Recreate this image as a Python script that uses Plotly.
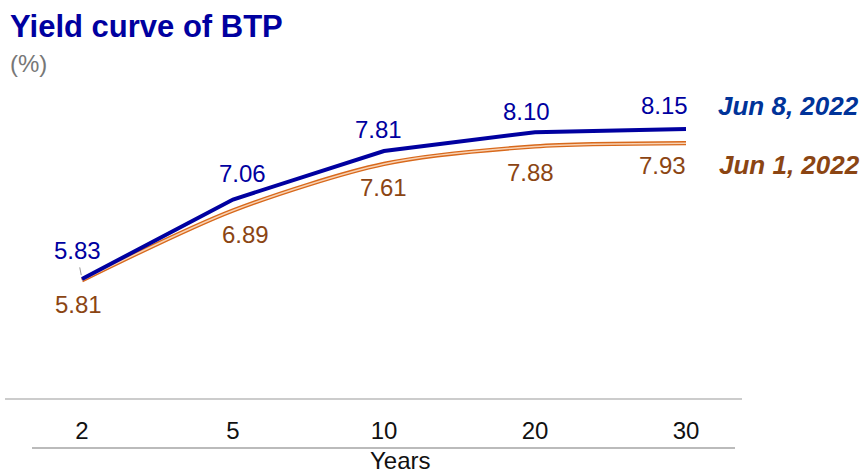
import plotly.graph_objects as go

years = ["2", "5", "10", "20", "30"]
jun8 = [5.83, 7.06, 7.81, 8.10, 8.15]
jun1 = [5.81, 6.89, 7.61, 7.88, 7.93]
series_names = ["Jun 8, 2022", "Jun 1, 2022"]

BLUE = "#0000A0"
BLUE_LBL = "#003399"
ORANGE = "#D8691C"
ORANGE_CORE = "#F8D2B4"
BROWN = "#8B4513"
FONT = "Liberation Sans, Arial, sans-serif"

W, H = 861, 474
L, R, T, B = 5, 742, 90, 398  # plot area in px


def xp(px):
    return (px - L) / (R - L)


def yp(py):
    return (B - py) / (B - T)


xs = list(range(len(years)))

fig = go.Figure()
# Jun 1 double line (orange with pale core)
fig.add_trace(go.Scatter(x=xs, y=jun1, mode="lines",
                         line=dict(color=ORANGE, width=4.2, shape="spline", smoothing=0.8),
                         hoverinfo="skip", showlegend=False))
fig.add_trace(go.Scatter(x=xs, y=jun1, mode="lines",
                         line=dict(color=ORANGE_CORE, width=1.5, shape="spline", smoothing=0.8),
                         hoverinfo="skip", showlegend=False))
# Jun 8 line
fig.add_trace(go.Scatter(x=xs, y=jun8, mode="lines",
                         line=dict(color=BLUE, width=4),
                         showlegend=False))

ann = []
# value labels (offsets in px: dx, dy where dy positive = down)
blue_off = [(-5, -29), (9, -26), (-6, -21), (-9, -21), (-22, -23)]
orange_off = [(-4, 24), (12, 24), (-1, 24), (-5, 26), (-24, 22)]
for i, v in enumerate(jun8):
    dx, dy = blue_off[i]
    ann.append(dict(x=xs[i], y=v, xref="x", yref="y", text=f"{v:.2f}",
                    showarrow=False, xshift=dx, yshift=-dy,
                    font=dict(family=FONT, size=24, color=BLUE)))
for i, v in enumerate(jun1):
    dx, dy = orange_off[i]
    ann.append(dict(x=xs[i], y=v, xref="x", yref="y", text=f"{v:.2f}",
                    showarrow=False, xshift=dx, yshift=-dy,
                    font=dict(family=FONT, size=24, color=BROWN)))

# series labels
ann.append(dict(x=xp(716), y=yp(106), xref="paper", yref="paper", xanchor="left", yanchor="middle",
                text=f"<b><i>{series_names[0]}</i></b>", showarrow=False,
                font=dict(family=FONT, size=26, color=BLUE_LBL)))
ann.append(dict(x=xp(717), y=yp(165), xref="paper", yref="paper", xanchor="left", yanchor="middle",
                text=f"<b><i>{series_names[1]}</i></b>", showarrow=False,
                font=dict(family=FONT, size=26, color=BROWN)))
# title & unit
ann.append(dict(x=xp(8), y=yp(27), xref="paper", yref="paper", xanchor="left", yanchor="middle",
                text="<b>Yield curve of BTP</b>", showarrow=False,
                font=dict(family=FONT, size=31, color=BLUE)))
ann.append(dict(x=xp(8), y=yp(63), xref="paper", yref="paper", xanchor="left", yanchor="middle",
                text="(%)", showarrow=False,
                font=dict(family=FONT, size=24, color="#777777")))
# axis title
ann.append(dict(x=xp(400), y=yp(460), xref="paper", yref="paper", xanchor="center", yanchor="middle",
                text="Years", showarrow=False,
                font=dict(family=FONT, size=24, color="#111111")))

shapes = [
    dict(type="line", xref="paper", yref="paper", x0=xp(32), x1=xp(735),
         y0=yp(448), y1=yp(448), line=dict(color="#BBBBBB", width=2)),
    # leader line for 5.83
    dict(type="line", xref="x", yref="y", x0=-0.015, x1=-0.005, y0=jun8[0] + 0.18, y1=jun8[0] + 0.06,
         line=dict(color="#999999", width=1)),
]

fig.update_layout(
    width=W, height=H,
    margin=dict(l=L, r=W - R, t=T, b=H - B, autoexpand=False),
    paper_bgcolor="white", plot_bgcolor="white",
    annotations=ann, shapes=shapes,
    xaxis=dict(range=[-(82 - L) / 151, 4 + (R - 686) / 151], tickmode="array",
               tickvals=xs, ticktext=years, showgrid=False, zeroline=False,
               showline=True, linecolor="#CCCCCC", linewidth=2, ticks="",
               ticklabelstandoff=10, automargin=False,
               tickfont=dict(family=FONT, size=24, color="#111111")),
    yaxis=dict(range=[3.99, 8.753], visible=False, showgrid=False, zeroline=False,
               automargin=False),
    font=dict(family=FONT),
)

fig.write_html("out.html", config={"displayModeBar": False},
               post_script="document.body.style.margin='0';document.body.style.overflow='hidden';")
